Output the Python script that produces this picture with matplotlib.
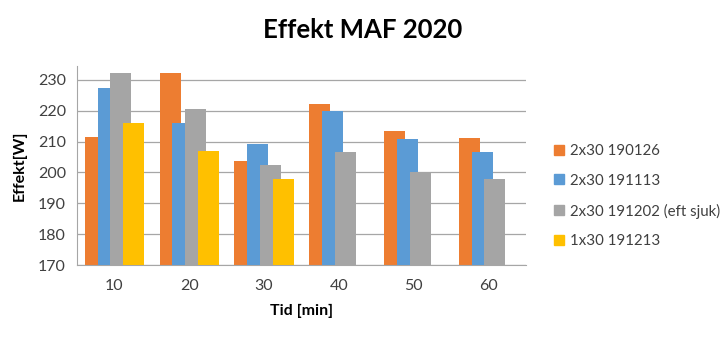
import numpy as np
import matplotlib
matplotlib.use('Agg')
import matplotlib.pyplot as plt
from matplotlib.patches import Patch

plt.rcParams['font.family'] = ['Lato', 'DejaVu Sans']

# tid i minuter och effekt per pass
tider = ['10', '20', '30', '40', '50', '60']
serier = ['2x30 190126', '2x30 191113', '2x30 191202 (eft sjuk)', '1x30 191213']
p_190126 = [211.5, 232.3, 203.6, 222.3, 213.4, 211.1]
p_191113 = [227.4, 216.0, 209.1, 219.8, 211.0, 206.5]
p_191202 = [232.3, 220.5, 202.3, 206.5, 200.0, 197.8]
p_191213 = [216.0, 206.8, 197.8, np.nan, np.nan, np.nan]
farger = ['#ED7D31', '#5B9BD5', '#A5A5A5', '#FFC000']

fig = plt.figure(figsize=(7.26, 3.37), dpi=100)
ax = fig.add_axes([0.106, 0.2136, 0.6185, 0.5904])

x = np.arange(len(tider))
bredd = 0.28
steg = 0.17
for i, (vals, f) in enumerate(zip([p_190126, p_191113, p_191202, p_191213], farger)):
    off = (i - 1.5) * steg
    ax.bar(x + off, vals, width=bredd, color=f, zorder=2 + i)

ax.set_xlim(-0.5, len(tider) - 0.5)
ax.set_ylim(170, 234.5)
ax.set_yticks(range(170, 231, 10))
ax.set_xticks(x)
ax.set_xticklabels(tider)
ax.yaxis.grid(True, color='#a6a6a6', linewidth=0.9, zorder=0)
ax.tick_params(axis='both', length=0, labelsize=11.5, colors='#404040')
ax.tick_params(axis='x', pad=10)
ax.tick_params(axis='y', pad=8)
for s in ['top', 'right']:
    ax.spines[s].set_visible(False)
ax.spines['left'].set_color('#a6a6a6')
ax.spines['bottom'].set_color('#a6a6a6')

ax.set_ylabel('Effekt[W]', fontsize=11.5, fontweight='bold', labelpad=8)
ax.set_xlabel('Tid [min]', fontsize=11.5, fontweight='bold', labelpad=8)

fig.text(0.5, 0.91, 'Effekt MAF 2020', ha='center', va='center',
         fontsize=18.5, fontweight='bold')

handles = [Patch(color=f, label=s) for f, s in zip(farger, serier)]
fig.legend(handles=handles, loc='center left', bbox_to_anchor=(0.745, 0.418),
           frameon=False, fontsize=10.8, handlelength=0.65, handleheight=0.65,
           handletextpad=0.4, labelspacing=1.05, labelcolor='#404040')

fig.savefig('out.png', dpi=100)
